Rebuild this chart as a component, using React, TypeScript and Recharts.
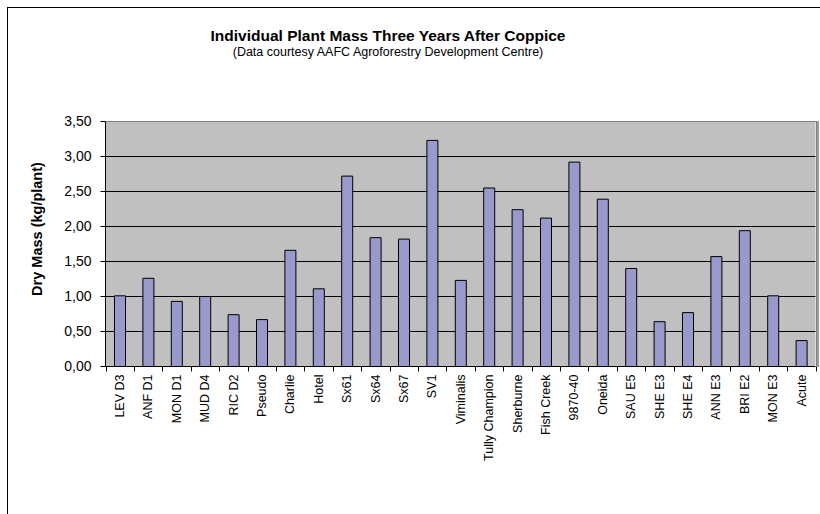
import { BarChart, Bar, XAxis, YAxis, CartesianGrid } from "recharts";

const categories = [
  "LEV D3", "ANF D1", "MON D1", "MUD D4", "RIC D2", "Pseudo", "Charlie", "Hotel",
  "Sx61", "Sx64", "Sx67", "SV1", "Viminalis", "Tully Champion", "Sherburne",
  "Fish Creek", "9870-40", "Oneida", "SAU E5", "SHE E3", "SHE E4", "ANN E3",
  "BRI E2", "MON E3", "Acute",
];
const dryMass = [
  1.01, 1.26, 0.93, 1.0, 0.74, 0.67, 1.66, 1.11, 2.72, 1.84, 1.82, 3.23, 1.23,
  2.55, 2.24, 2.12, 2.92, 2.39, 1.4, 0.64, 0.77, 1.57, 1.94, 1.01, 0.37,
];
const yTicks = [0, 0.5, 1, 1.5, 2, 2.5, 3, 3.5];

const data = categories.map((name, i) => ({ name, mass: dryMass[i] }));

const FONT = '"Liberation Sans", Arial, sans-serif';
const PLOT_LEFT = 105.5;
const PLOT_TOP = 121.5;
const PLOT_W = 710;
const PLOT_H = 245;
const BAND = PLOT_W / categories.length;

function CategoryTick(props: any) {
  const { x, y, payload, index } = props;
  const last = index === categories.length - 1;
  const lx = Math.round(x - BAND / 2) + 0.5;
  const rx = Math.round(x + BAND / 2) + 0.5;
  return (
    <g>
      <line x1={lx} x2={lx} y1={y} y2={y + 5} stroke="#000" />
      {last && <line x1={rx} x2={rx} y1={y} y2={y + 5} stroke="#000" />}
      <text
        x={x}
        y={y + 8}
        transform={`rotate(-90, ${x}, ${y + 8})`}
        textAnchor="end"
        dy="0.35em"
        fontSize={12.5}
        fontFamily={FONT}
        fill="#000"
      >
        {payload.value}
      </text>
    </g>
  );
}

export default function App() {
  return (
    <div
      style={{
        position: "absolute",
        left: 0,
        top: 0,
        width: 820,
        height: 514,
        overflow: "hidden",
        background: "#fff",
        fontFamily: FONT,
      }}
    >
      <div
        style={{
          position: "absolute",
          left: 7,
          top: 7,
          width: 830,
          height: 530,
          borderTop: "1px solid #000",
          borderLeft: "1px solid #000",
        }}
      />
      <div
        style={{
          position: "absolute",
          left: 0,
          width: 776,
          top: 27,
          textAlign: "center",
          fontWeight: "bold",
          fontSize: 15.5,
          color: "#000",
        }}
      >
        Individual Plant Mass Three Years After Coppice
      </div>
      <div
        style={{
          position: "absolute",
          left: 0,
          width: 776,
          top: 45,
          textAlign: "center",
          fontSize: 12.5,
          color: "#000",
        }}
      >
        (Data courtesy AAFC Agroforestry Development Centre)
      </div>
      <div
        style={{
          position: "absolute",
          left: 37 - 100,
          top: 229 - 10,
          width: 200,
          height: 20,
          lineHeight: "20px",
          textAlign: "center",
          fontWeight: "bold",
          fontSize: 14.5,
          transform: "rotate(-90deg)",
          color: "#000",
        }}
      >
        Dry Mass (kg/plant)
      </div>
      <div style={{ position: "absolute", left: 0, top: 0 }}>
        <BarChart
          width={820}
          height={514}
          data={data}
          margin={{
            top: PLOT_TOP,
            right: 820 - PLOT_LEFT - PLOT_W,
            left: PLOT_LEFT - 60,
            bottom: 514 - PLOT_TOP - PLOT_H - 140,
          }}
          barSize={11}
        >
          <CartesianGrid
            vertical={false}
            fill="#C0C0C0"
            fillOpacity={1}
            stroke="#000"
            horizontalValues={yTicks.slice(1, -1)}
          />
          <XAxis
            dataKey="name"
            interval={0}
            height={140}
            axisLine={{ stroke: "#000" }}
            tickLine={false}
            tickSize={0}
            tickMargin={0}
            tick={<CategoryTick />}
          />
          <YAxis
            width={60}
            domain={[0, 3.5]}
            ticks={yTicks}
            interval={0}
            tickFormatter={(v: number) => v.toFixed(2).replace(".", ",")}
            axisLine={{ stroke: "#000" }}
            tickLine={{ stroke: "#000" }}
            tickSize={5}
            tickMargin={9}
            tick={{ fontSize: 14, fill: "#000", fontFamily: FONT }}
          />
          <Bar dataKey="mass" fill="#9999CC" stroke="#000" strokeWidth={1} isAnimationActive={false} />
        </BarChart>
      </div>
      <div
        style={{
          position: "absolute",
          left: 106,
          top: 121,
          width: PLOT_W,
          height: PLOT_H,
          borderTop: "1px solid #808080",
          borderRight: "1px solid #808080",
          boxShadow: "2px 0 0 #9a9a9a",
          pointerEvents: "none",
        }}
      />
    </div>
  );
}
